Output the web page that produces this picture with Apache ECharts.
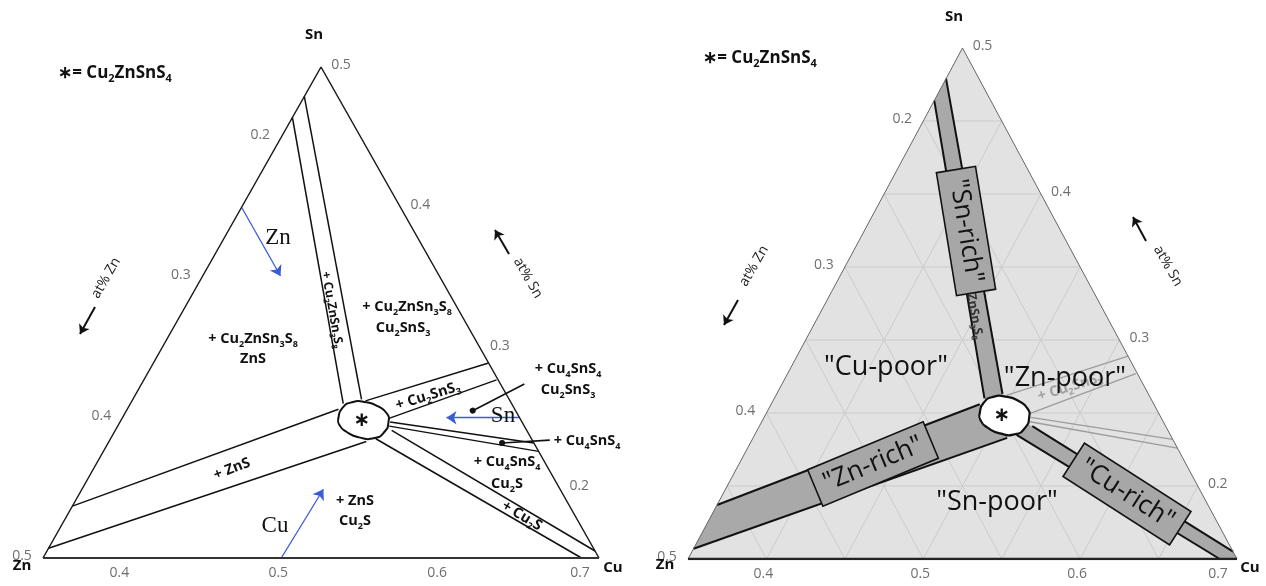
<!DOCTYPE html>
<html>
<head>
<meta charset="utf-8">
<title>Cu-Zn-Sn-S phase diagram</title>
<script src="https://cdn.jsdelivr.net/npm/echarts@6.0.0/dist/echarts.min.js"></script>
<style>
  html, body { margin: 0; padding: 0; background: #fff; }
  #main { width: 1266px; height: 586px; }
</style>
</head>
<body>
<div id="main"></div>
<script>
// all points are metal fractions [Cu, Sn]; Zn is the rest (1 - Cu - Sn)
const vertices = [[0.35, 0.15], [0.70, 0.15], [0.35, 0.50]] // Zn, Cu, Sn corners
const czts = [0.50, 0.25]

const snRichLeft = [[0.350, 0.464], [0.484, 0.260]]
const snRichRight = [[0.350, 0.479], [0.494, 0.263]]
const znRichUpper = [[0.350, 0.187], [0.483, 0.256]]
const znRichLower = [[0.350, 0.157], [0.512, 0.233]]
const cuRichUpper = [[0.524, 0.241], [0.695, 0.155]]
const cuRichLower = [[0.517, 0.235], [0.689, 0.150]]
const cu2sns3Upper = [[0.497, 0.262], [0.561, 0.289]]
const cu2sns3Lower = [[0.517, 0.249], [0.572, 0.277]]
const cu4sns4Upper = [[0.520, 0.247], [0.618, 0.232]]
const cu4sns4Lower = [[0.521, 0.244], [0.624, 0.226]]

const blob = [
  [0.486, 0.250], [0.485, 0.257], [0.489, 0.261], [0.498, 0.261],
  [0.507, 0.258], [0.515, 0.253], [0.519, 0.247], [0.520, 0.240],
  [0.516, 0.2355], [0.506, 0.236], [0.496, 0.240], [0.489, 0.245]
]

const znArrow = [[0.350, 0.400], [0.399, 0.351]]
const snArrow = [[0.600, 0.250], [0.554, 0.250]]
const cuArrow = [[0.500, 0.150], [0.502, 0.199]]
const leaderA = [[0.591, 0.274], [0.568, 0.255]]
const leaderB = [[0.627, 0.234], [0.598, 0.232]]

const cuTicks = [0.4, 0.5, 0.6, 0.7]
const znTicks = [0.2, 0.3, 0.4, 0.5]
const snTicks = [0.2, 0.3, 0.4, 0.5]
const gridSteps = [0.05, 0.10, 0.15, 0.20, 0.25, 0.30] // above the lowest value of each metal

// corner-normalised ternary -> cartesian of the sub triangle
function xy(p) {
  const a = (p[0] - 0.35) / 0.35
  const c = (p[1] - 0.15) / 0.35
  return [a + c / 2, c]
}

function line(g, pts, color, width, z, extra) {
  return Object.assign({
    type: 'line', xAxisIndex: g, yAxisIndex: g, data: pts.map(xy),
    symbol: 'none', silent: true, z: z || 4,
    lineStyle: { color, width }
  }, extra || {})
}

function poly(g, pts, fill, z, smooth, stroke, lw) {
  return {
    type: 'custom', xAxisIndex: g, yAxisIndex: g, silent: true, z,
    data: [[0, 0]],
    renderItem: (params, api) => ({
      type: 'polygon',
      shape: { points: pts.map((p) => api.coord(xy(p))), smooth: smooth || 0 },
      style: { fill, stroke: stroke || null, lineWidth: lw || 0 }
    })
  }
}

function arrowLine(pts, color, symbols, size, width) {
  return {
    silent: true, symbol: symbols, symbolSize: size,
    label: { show: false },
    lineStyle: { color, width, type: 'solid' },
    itemStyle: { color },
    data: [[{ coord: xy(pts[0]) }, { coord: xy(pts[1]) }]]
  }
}

function tickSeries(g) {
  const data = []
  cuTicks.forEach((v) => data.push({ value: xy([v, 0.15]), name: v.toFixed(1), label: { offset: [v === 0.7 ? -19 : -3, 15] } }))
  znTicks.forEach((v) => data.push({ value: xy([0.35, 0.65 - v]), name: v.toFixed(1), label: { offset: [-21, -2] } }))
  snTicks.forEach((v) => data.push({ value: xy([0.85 - v, v]), name: v.toFixed(1), label: { offset: [20, -2] } }))
  return {
    type: 'scatter', xAxisIndex: g, yAxisIndex: g, silent: true, z: 10,
    symbolSize: 1, itemStyle: { color: 'rgba(0,0,0,0)' },
    label: { show: true, position: 'inside', formatter: '{b}', color: '#4a4a4a', fontSize: 14, fontFamily: 'Open Sans' },
    data
  }
}

function gridLines(g) {
  const s = []
  gridSteps.forEach((d) => {
    s.push(line(g, [[0.35 + d, 0.15], [0.35 + d, 0.50 - d]], '#cbcbcb', 1, 1.5))
    s.push(line(g, [[0.35, 0.15 + d], [0.70 - d, 0.15 + d]], '#cbcbcb', 1, 1.5))
    s.push(line(g, [[0.35, 0.50 - d], [0.70 - d, 0.15]], '#cbcbcb', 1, 1.5))
  })
  return s
}

// text helpers (layout lives here, not in the data)
const SUB = (size, w) => ({ s: { fontSize: size, fontWeight: w, fontFamily: 'Open Sans', padding: [size + 1, 0, 0, 0] } })
function T(x, y, text, o) {
  o = o || {}
  const size = o.size || 14.5
  return {
    type: 'text', x, y, z: o.z || 100, silent: true,
    rotation: (o.rot || 0) * Math.PI / 180,
    style: Object.assign({
      text, fill: o.color || '#111', fontSize: size,
      fontFamily: o.family || 'Open Sans', fontWeight: o.weight || 'bold',
      align: 'center', verticalAlign: 'middle', textAlign: 'center', textVerticalAlign: 'middle',
      rich: SUB(Math.round(size * 0.65), o.weight || 'bold')
    }, o.style || {})
  }
}
function box(x, y, text, rot) {
  return T(x, y, text, {
    size: 26, weight: 'normal', rot,
    style: { backgroundColor: '#a7a7a7', borderColor: '#111', borderWidth: 1.6, padding: [2, 9], lineHeight: 34 }
  })
}

const chart = echarts.init(document.getElementById('main'))

const series = []
// ----- left diagram
series.push(line(0, [vertices[0], vertices[2], vertices[1]], '#1a1a1a', 1.5, 6))
series.push(line(0, [vertices[0], vertices[1]], '#333', 2, 6))
;[snRichLeft, snRichRight, znRichUpper, znRichLower, cu2sns3Upper, cu2sns3Lower,
  cu4sns4Upper, cu4sns4Lower, cuRichUpper, cuRichLower].forEach((l) => series.push(line(0, l, '#111', 1.5, 4)))
series.push(poly(0, blob, '#fff', 7, 0.6, '#111', 2))
series.push(line(0, [], '#000', 1, 8, { markLine: arrowLine(znArrow, '#3b5bd6', ['none', 'arrow'], 10, 1.3) }))
series.push(line(0, [], '#000', 1, 8, { markLine: arrowLine(snArrow, '#3b5bd6', ['none', 'arrow'], 10, 1.3) }))
series.push(line(0, [], '#000', 1, 8, { markLine: arrowLine(cuArrow, '#3b5bd6', ['none', 'arrow'], 10, 1.3) }))
series.push(line(0, [], '#000', 1, 8, { markLine: arrowLine(leaderA, '#111', ['none', 'circle'], 6, 1.6) }))
series.push(line(0, [], '#000', 1, 8, { markLine: arrowLine(leaderB, '#111', ['none', 'circle'], 6, 1.6) }))
series.push(tickSeries(0))

// ----- right diagram
series.push(poly(1, vertices, '#e2e2e2', 1))
gridLines(1).forEach((s) => series.push(s))
;[cu2sns3Upper, cu2sns3Lower, cu4sns4Upper, cu4sns4Lower].forEach((l) => series.push(line(1, l, '#9c9c9c', 1.3, 2)))
series.push(poly(1, [snRichLeft[0], snRichLeft[1], czts, snRichRight[1], snRichRight[0]], '#a9a9a9', 3))
series.push(poly(1, [znRichUpper[0], znRichUpper[1], czts, znRichLower[1], znRichLower[0]], '#a9a9a9', 3))
series.push(poly(1, [cuRichUpper[0], cuRichUpper[1], vertices[1], cuRichLower[1], cuRichLower[0], czts], '#a9a9a9', 3))
;[snRichLeft, snRichRight, znRichUpper, znRichLower, cuRichUpper, cuRichLower].forEach((l) => series.push(line(1, l, '#111', 2, 4)))
series.push(line(1, [vertices[0], vertices[2], vertices[1]], '#666', 1, 6))
series.push(line(1, [vertices[0], vertices[1]], '#222', 2.5, 6))
series.push(poly(1, blob, '#fff', 7, 0.6, '#111', 2.2))
series.push(tickSeries(1))

// at% arrows beside the sides (pixel placed, decorative)
function sideArrow(x1, y1, x2, y2) {
  return line(0, [], '#000', 1, 8, {
    markLine: {
      silent: true, symbol: ['none', 'arrow'], symbolSize: 9, label: { show: false },
      lineStyle: { color: '#111', width: 2, type: 'solid' },
      itemStyle: { color: '#111' },
      data: [[{ x: x1, y: y1 }, { x: x2, y: y2 }]]
    }
  })
}
series.push(sideArrow(95, 307, 80, 334))
series.push(sideArrow(509, 254, 495, 230))
series.push(sideArrow(738, 300, 724, 325))
series.push(sideArrow(1146, 241, 1133, 217))

const texts = [
  // left
  T(115, 73, '∗= Cu{s|2}ZnSnS{s|4}', { size: 17 }),
  T(314, 35, 'Sn', { size: 15 }),
  T(22, 566, 'Zn', { size: 15 }),
  T(613, 568, 'Cu', { size: 15 }),
  T(106, 278, 'at% Zn', { size: 14, weight: 'normal', color: '#222', rot: 60 }),
  T(528, 278, 'at% Sn', { size: 14, weight: 'normal', color: '#222', rot: -60 }),
  T(253, 339, '+ Cu{s|2}ZnSn{s|3}S{s|8}'),
  T(253, 359, 'ZnS'),
  T(407, 307, '+ Cu{s|2}ZnSn{s|3}S{s|8}'),
  T(403, 328, 'Cu{s|2}SnS{s|3}'),
  T(568, 369, '+ Cu{s|4}SnS{s|4}'),
  T(568, 390, 'Cu{s|2}SnS{s|3}'),
  T(587, 441, '+ Cu{s|4}SnS{s|4}'),
  T(507, 462, '+ Cu{s|4}SnS{s|4}'),
  T(507, 484, 'Cu{s|2}S'),
  T(355, 501, '+ ZnS'),
  T(355, 521, 'Cu{s|2}S'),
  T(232, 469, '+ ZnS', { rot: 21 }),
  T(428, 396, '+ Cu{s|2}SnS{s|3}', { rot: 17 }),
  T(522, 516, '+ Cu{s|2}S', { rot: -31 }),
  T(332, 310, '+ Cu{s|2}ZnSn{s|3}S{s|8}', { size: 12.5, rot: -80 }),
  T(278, 238, 'Zn', { size: 23, weight: 'normal', family: 'Liberation Serif' }),
  T(503, 416, 'Sn', { size: 23, weight: 'normal', family: 'Liberation Serif' }),
  T(275, 526, 'Cu', { size: 23, weight: 'normal', family: 'Liberation Serif' }),
  T(362, 421, '∗', { size: 20, family: 'DejaVu Sans' }),
  // right
  T(760, 58, '∗= Cu{s|2}ZnSnS{s|4}', { size: 17 }),
  T(954, 17, 'Sn', { size: 15 }),
  T(665, 565, 'Zn', { size: 15 }),
  T(1250, 568, 'Cu', { size: 15 }),
  T(754, 266, 'at% Zn', { size: 14, weight: 'normal', color: '#222', rot: 60 }),
  T(1168, 266, 'at% Sn', { size: 14, weight: 'normal', color: '#222', rot: -60 }),
  T(1070, 387, '+ Cu{s|2}SnS{s|3}', { color: '#a0a0a0', rot: 17, z: 50 }),
  T(972, 301, '+ Cu{s|2}ZnSn{s|3}S{s|8}', { size: 12.5, color: '#333', rot: -80, z: 50 }),
  T(886, 367, '"Cu-poor"', { size: 27, weight: 'normal' }),
  T(1065, 378, '"Zn-poor"', { size: 27, weight: 'normal' }),
  T(997, 502, '"Sn-poor"', { size: 27, weight: 'normal' }),
  box(966, 231, '"Sn-rich"', -80.7),
  box(873, 464, '"Zn-rich"', 22.6),
  box(1127, 494, '"Cu-rich"', -32.7),
  T(1002, 416, '∗', { size: 20, family: 'DejaVu Sans' })
]

chart.setOption({
  animation: false,
  grid: [
    { left: 43, top: 67, width: 556, height: 491 },
    { left: 688, top: 48, width: 549, height: 511 }
  ],
  xAxis: [
    { gridIndex: 0, type: 'value', min: 0, max: 1, show: false },
    { gridIndex: 1, type: 'value', min: 0, max: 1, show: false }
  ],
  yAxis: [
    { gridIndex: 0, type: 'value', min: 0, max: 1, show: false },
    { gridIndex: 1, type: 'value', min: 0, max: 1, show: false }
  ],
  series,
  graphic: texts
})
</script>
</body>
</html>
